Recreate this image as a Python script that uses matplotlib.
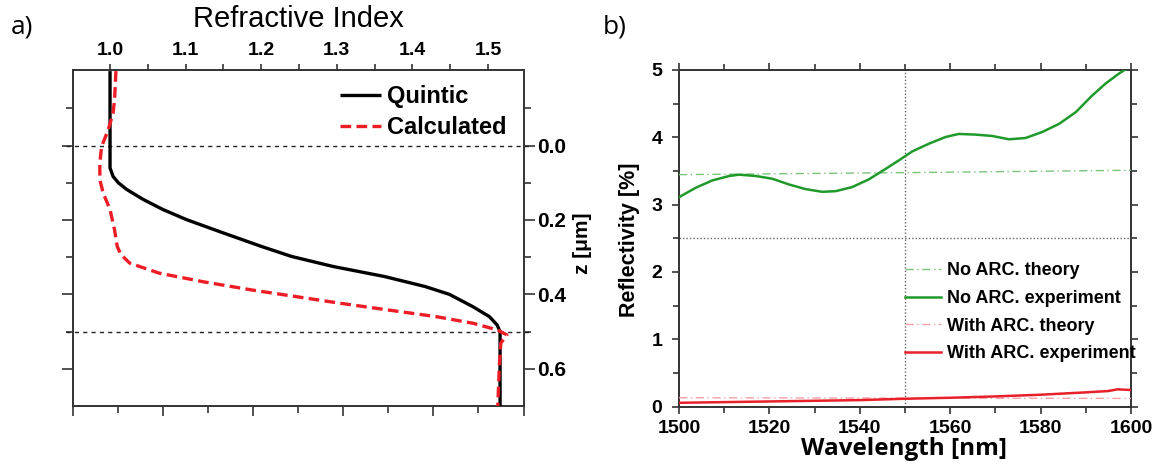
import matplotlib
matplotlib.use("Agg")
import matplotlib.pyplot as plt
import matplotlib.transforms as mtransforms

# ---------------- data: panel a ----------------
z_quintic = [-0.2, 0.0, 0.06, 0.083, 0.1, 0.118, 0.145, 0.172, 0.199, 0.235, 0.271,
             0.298, 0.325, 0.352, 0.379, 0.4, 0.433, 0.46, 0.482, 0.5, 0.7]
n_quintic = [1.0, 1.0, 1.0, 1.004, 1.011, 1.022, 1.044, 1.070, 1.101, 1.150, 1.200,
             1.240, 1.295, 1.363, 1.417, 1.449, 1.480, 1.502, 1.512, 1.516, 1.516]

z_calc = [-0.2, -0.195, -0.123, -0.087, -0.042, 0.003, 0.047, 0.092, 0.128, 0.172, 0.227,
          0.271, 0.292, 0.316, 0.343, 0.366, 0.388, 0.406, 0.424, 0.442, 0.46, 0.478,
          0.496, 0.509, 0.531, 0.594, 0.7]
n_calc = [1.008, 1.0077, 1.006, 1.004, 0.9975, 0.9888, 0.9865, 0.9865, 0.991, 1.0, 1.006,
          1.0095, 1.014, 1.026, 1.065, 1.123, 1.187, 1.246, 1.305, 1.368, 1.432, 1.481,
          1.513, 1.525, 1.517, 1.515, 1.513]

n_ticks = [1.0, 1.1, 1.2, 1.3, 1.4, 1.5]
z_ticks = [0.0, 0.2, 0.4, 0.6]
z_guides = [0.0, 0.5]

# ---------------- data: panel b ----------------
wl_exp = [1500, 1503.7, 1507.4, 1511.1, 1513.3, 1517.0, 1520.6, 1524.3, 1528.0, 1531.7,
          1534.7, 1538.3, 1542.0, 1545.7, 1548.7, 1551.6, 1555.3, 1559.0, 1561.9, 1565.6,
          1569.3, 1573.0, 1576.7, 1580.4, 1584.1, 1587.8, 1591.4, 1594.4, 1597.3, 1598.8, 1600]
r_noarc_exp = [3.11, 3.25, 3.36, 3.425, 3.445, 3.425, 3.385, 3.30, 3.23, 3.19,
               3.20, 3.26, 3.375, 3.53, 3.66, 3.79, 3.905, 4.005, 4.05, 4.04,
               4.02, 3.97, 3.99, 4.08, 4.20, 4.375, 4.62, 4.80, 4.945, 5.01, 5.03]

wl_theory = [1500, 1550, 1600]
r_noarc_theory = [3.445, 3.475, 3.51]
r_arc_theory = [0.13, 0.125, 0.12]

wl_arc = [1500, 1510, 1520, 1530, 1540, 1550, 1560, 1570, 1580, 1590, 1595, 1597, 1600]
r_arc_exp = [0.055, 0.065, 0.075, 0.085, 0.095, 0.115, 0.13, 0.15, 0.175, 0.21, 0.23, 0.255, 0.245]

wl_ticks = [1500, 1520, 1540, 1560, 1580, 1600]
r_ticks = [0, 1, 2, 3, 4, 5]

# ---------------- figure ----------------
W, H = 1164, 475
fig = plt.figure(figsize=(W / 100, H / 100), dpi=100)
FONT = "Liberation Sans"
plt.rcParams["font.family"] = FONT
SP = "#333333"

def fx(px):
    return px / W

def fy(py):
    return 1 - py / H

# ---------------- panel a ----------------
axa = fig.add_axes([fx(73), fy(406), fx(523.5) - fx(73), fy(70) - fy(406)])

# bottom ticks (unlabelled, own spacing) on a twin axis
axb2 = axa.twiny()
axb2.set_xlim(0, 5)
axb2.xaxis.set_ticks_position("bottom")
axb2.set_xticks([0, 1, 2, 3, 4, 5])
axb2.set_xticks([0.5, 1.5, 2.5, 3.5, 4.5], minor=True)
axb2.tick_params(axis="x", which="both", labelbottom=False, labeltop=False,
                 top=False, bottom=True, direction="out", width=1.2, color=SP)
axb2.tick_params(axis="x", which="major", length=7)
axb2.tick_params(axis="x", which="minor", length=5)
for s in axb2.spines.values():
    s.set_visible(False)

axa.plot(n_quintic, z_quintic, color="black", lw=2.4, solid_capstyle="butt",
         label="Quintic", zorder=3)
axa.plot(n_calc, z_calc, color="#ee1c25", lw=2.4, ls=(0, (3.2, 1.6)),
         label="Calculated", zorder=4)
axa.set_xlim(0.951, 1.547)
axa.set_ylim(0.7, -0.203)
trans = mtransforms.blended_transform_factory(axa.transAxes, axa.transData)
for zg in z_guides:
    axa.plot([-0.016, 1.013], [zg, zg], transform=trans, color="#222222", lw=1.0,
             ls=(0, (3, 3)), clip_on=False, zorder=2)

axa.xaxis.set_ticks_position("top")
axa.xaxis.set_label_position("top")
axa.set_xticks(n_ticks)
axa.set_xticks([1.05, 1.15, 1.25, 1.35, 1.45], minor=True)
axa.set_xticklabels([f"{v:.1f}" for v in n_ticks], fontsize=14, fontweight="bold")
axa.tick_params(axis="x", which="both", top=True, bottom=False, labeltop=True,
                labelbottom=False, direction="out", length=4, width=1.2, color=SP, pad=4)
axa.set_yticks(z_ticks)
axa.set_yticks([-0.1, 0.1, 0.3, 0.5], minor=True)
axa.set_yticklabels([f"{v:.1f}" for v in z_ticks], fontsize=15, fontweight="bold")
axa.tick_params(axis="y", which="both", left=True, right=True, labelleft=False,
                labelright=True, direction="out", width=1.2, color=SP, pad=2)
axa.tick_params(axis="y", which="major", length=8)
axa.tick_params(axis="y", which="minor", length=5)
for s in axa.spines.values():
    s.set_linewidth(1.4)
    s.set_color(SP)

leg_a = axa.legend(loc="upper left", bbox_to_anchor=(fx(339.5), fy(85)),
                   bbox_transform=fig.transFigure, frameon=False,
                   prop={"family": FONT, "weight": "bold", "size": 17},
                   handlelength=1.75, handletextpad=0.25, borderpad=0,
                   borderaxespad=0, labelspacing=0.33)

fig.text(fx(298), fy(27.3), "Refractive Index", ha="center", va="baseline",
         fontsize=21, family=FONT)
fig.text(fx(583), fy(243), "z [μm]", ha="center", va="center", rotation=90,
         fontsize=15, fontweight="bold", family=FONT)
fig.text(fx(11), fy(34), "a)", ha="left", va="baseline", fontsize=19,
         family="Open Sans")

# ---------------- panel b ----------------
axr = fig.add_axes([fx(679), fy(406.5), fx(1131) - fx(679), fy(70) - fy(406.5)])
axr.plot(wl_theory, r_noarc_theory, color="#7cc47c", lw=1.0,
         ls=(0, (6, 2.5, 1, 2.5)), label="No ARC. theory", zorder=3)
axr.plot(wl_exp, r_noarc_exp, color="#1f9a2a", lw=1.8, label="No ARC. experiment",
         zorder=4)
axr.plot(wl_theory, r_arc_theory, color="#f4a0a8", lw=1.0,
         ls=(0, (6, 2.5, 1, 2.5)), label="With ARC. theory", zorder=3)
axr.plot(wl_arc, r_arc_exp, color="#e8202a", lw=1.8, label="With ARC. experiment",
         zorder=4)
axr.axvline(1550, color="#666666", lw=1.0, ls=(0, (1, 1.5)), zorder=2)
axr.axhline(2.5, color="#666666", lw=1.0, ls=(0, (1, 1.5)), zorder=2)
axr.set_xlim(1500, 1600)
axr.set_ylim(0, 5)
axr.set_xticks(wl_ticks)
axr.set_xticks([1510, 1530, 1550, 1570, 1590], minor=True)
axr.set_yticks(r_ticks)
axr.set_yticks([0.5, 1.5, 2.5, 3.5, 4.5], minor=True)
axr.set_xticklabels([str(v) for v in wl_ticks], fontsize=14, fontweight="bold")
axr.set_yticklabels([str(v) for v in r_ticks], fontsize=14, fontweight="bold")
axr.tick_params(axis="both", which="both", direction="out", top=True, right=True,
                width=1.2, color=SP)
axr.tick_params(axis="both", which="major", length=5)
axr.tick_params(axis="both", which="minor", length=4)
axr.tick_params(axis="x", pad=5)
axr.tick_params(axis="y", pad=7)
for s in axr.spines.values():
    s.set_linewidth(1.4)
    s.set_color(SP)

leg_b = axr.legend(loc="upper left", bbox_to_anchor=(fx(905), fy(262)),
                   bbox_transform=fig.transFigure, frameon=False,
                   prop={"family": FONT, "weight": "bold", "size": 13},
                   handlelength=2.0, handletextpad=0.3, borderpad=0,
                   borderaxespad=0, labelspacing=0.6)

fig.text(fx(630), fy(240), "Reflectivity [%]", ha="center", va="center",
         rotation=90, fontsize=15.5, fontweight="bold", family=FONT)
fig.text(fx(904), fy(455), "Wavelength [nm]", ha="center", va="baseline",
         fontsize=17.5, fontweight="bold", family="Open Sans")
fig.text(fx(603), fy(34), "b)", ha="left", va="baseline", fontsize=19,
         family="Open Sans")

fig.savefig("out.png", dpi=100)
